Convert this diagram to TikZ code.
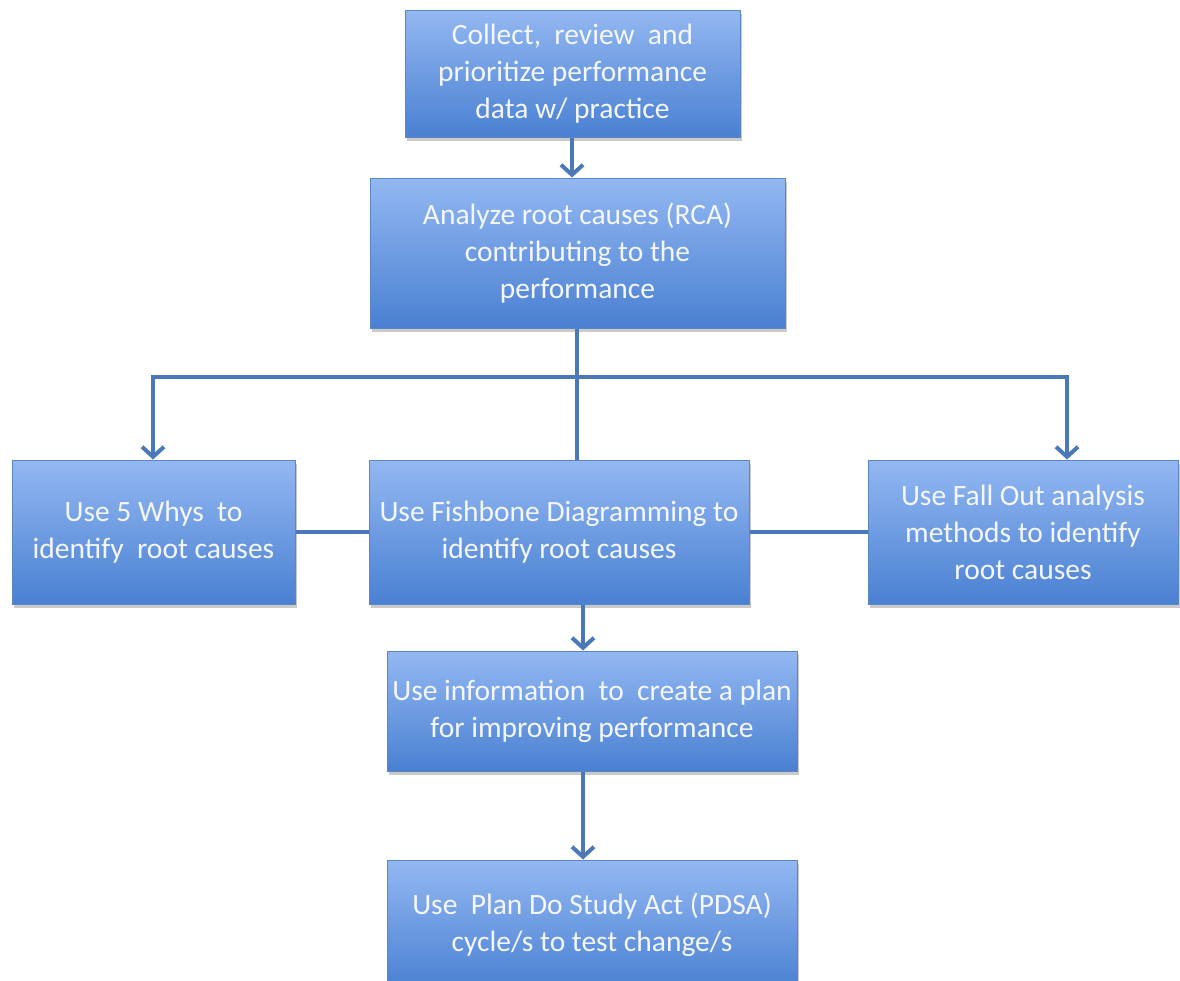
\documentclass[tikz,border=0pt]{standalone}
\usepackage{fontspec}
\setmainfont{Carlito}
\usetikzlibrary{arrows.meta,shadows}
\definecolor{linec}{HTML}{4A78B8}
\definecolor{topc}{HTML}{93B8F2}
\definecolor{botc}{HTML}{4A80D2}
\definecolor{edgec}{HTML}{5A86C4}
\definecolor{txtc}{HTML}{F4F7FF}
\begin{document}
\begin{tikzpicture}[x=1pt,y=-1pt,
  box/.style={rectangle, draw=edgec, line width=1pt, top color=topc, bottom color=botc,
    text=txtc, align=center, inner sep=0pt,
    font=\fontsize{29.5}{37}\selectfont,
    drop shadow={shadow xshift=2pt, shadow yshift=-4pt, opacity=0.35, fill=black!60}},
  conn/.style={draw=linec, line width=4pt},
  arr/.style={conn, -{Straight Barb[length=10pt,width=22pt,line width=4pt]}}]
\useasboundingbox (0,0) rectangle (1180,980);
\begin{scope}
\clip (0,0) rectangle (1180,980);
\node[box, minimum width=335pt, minimum height=127pt] (b1) at (572.5,73.5)
  {Collect,\ \ review\ \ and\\prioritize performance\\data w/ practice};
\node[box, minimum width=415pt, minimum height=150pt] (b2) at (577.5,253)
  {Analyze root causes (RCA)\\contributing to the\\performance};
\node[box, minimum width=283pt, minimum height=144pt] (lf) at (153.5,532)
  {Use 5 Whys\ \ to\\identify\ \ root causes};
\node[box, minimum width=380pt, minimum height=144pt] (md) at (559,532)
  {Use Fishbone Diagramming to\\identify root causes};
\node[box, minimum width=310pt, minimum height=144pt] (rt) at (1023,532)
  {Use Fall Out analysis\\methods to identify\\root causes};
\node[box, minimum width=410pt, minimum height=120pt] (b4) at (592,711)
  {Use information\ \ to\ \ create a plan\\for improving performance};
\node[box, minimum width=410pt, minimum height=130pt] (b5) at (592,925)
  {Use\ \ Plan Do Study Act (PDSA)\\cycle/s to test change/s};
\end{scope}
\coordinate (xa) at (572,0);
\coordinate (xb) at (577,0);
\coordinate (xc) at (583,0);
\coordinate (hl) at (153,377);
\coordinate (hr) at (1067,377);
\draw[arr] (b1.south -| xa) -- (b2.north -| xa);
\draw[conn] (b2.south -| xb) -- (md.north -| xb);
\draw[conn] (hl) -- (hr);
\draw[arr] ([yshift=2pt]hl) -- (lf.north -| hl);
\draw[arr] ([yshift=2pt]hr) -- (rt.north -| hr);
\draw[conn] (lf.east) -- (md.west);
\draw[conn] (md.east) -- (rt.west);
\draw[arr] (md.south -| xc) -- (b4.north -| xc);
\draw[arr] (b4.south -| xc) -- (b5.north -| xc);
\end{tikzpicture}
\end{document}
